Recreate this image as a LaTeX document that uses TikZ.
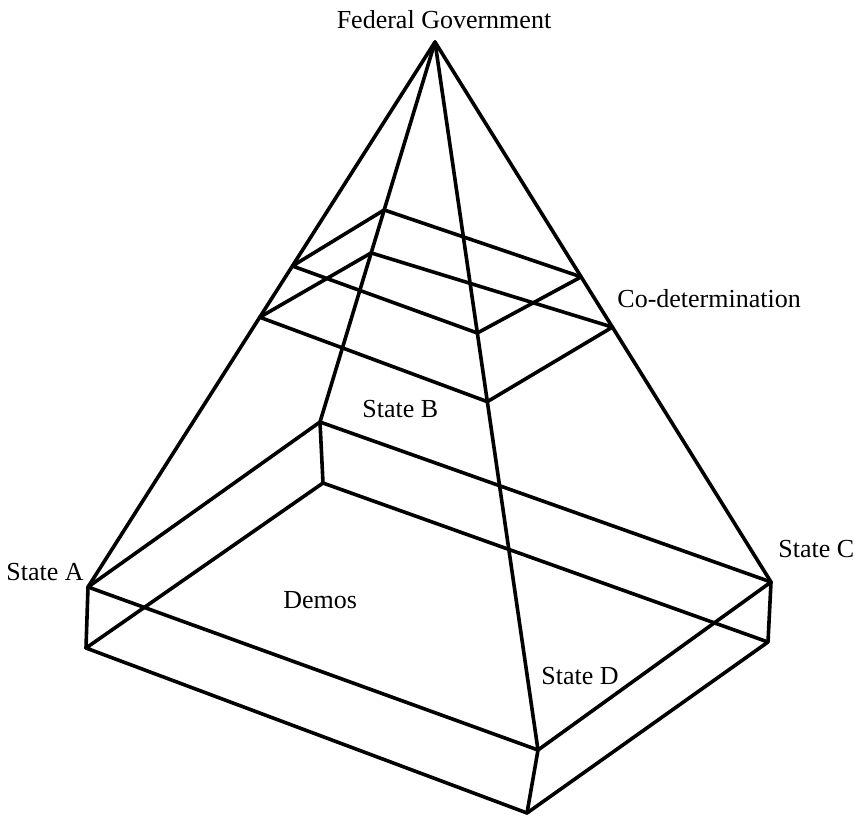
\documentclass[tikz,border=0pt]{standalone}
\usepackage{fontspec}
\setmainfont{Liberation Serif}
\usetikzlibrary{calc}
\tikzset{
  wire/.style={line width=1.8pt, line join=round, line cap=round},
  lbl/.style={inner sep=0pt, font=\fontsize{13}{15}\selectfont}
}

\begin{document}
\begin{tikzpicture}[x=0.5pt, y=-0.5pt]
    \useasboundingbox (0,0) rectangle (861,816);
    \coordinate (apex) at (435,42);
    \coordinate (sA) at (88,587);
    \coordinate (sB) at (320,422);
    \coordinate (sC) at (771,582);
    \coordinate (sD) at (538,750);
    \coordinate (bA) at (86,648);
    \coordinate (bB) at (323,483);
    \coordinate (bC) at (768,642);
    \coordinate (bD) at (527,813);
    \coordinate (uA) at ($(apex)!0.411!(sA)$);
    \coordinate (uB) at ($(apex)!0.442!(sB)$);
    \coordinate (uC) at ($(apex)!0.435!(sC)$);
    \coordinate (uD) at ($(apex)!0.411!(sD)$);
    \coordinate (lA) at ($(apex)!0.505!(sA)$);
    \coordinate (lB) at ($(apex)!0.555!(sB)$);
    \coordinate (lC) at ($(apex)!0.528!(sC)$);
    \coordinate (lD) at ($(apex)!0.508!(sD)$);
    \draw[wire] (apex) -- (sA);
    \draw[wire] (apex) -- (sB);
    \draw[wire] (apex) -- (sC);
    \draw[wire] (apex) -- (sD);
    \draw[wire] (sA) -- (sB) -- (sC) -- (sD) -- cycle;
    \draw[wire] (bA) -- (bB) -- (bC) -- (bD) -- cycle;
    \draw[wire] (sA) -- (bA);
    \draw[wire] (sB) -- (bB);
    \draw[wire] (sC) -- (bC);
    \draw[wire] (sD) -- (bD);
    \draw[wire] (uA) -- (uB) -- (uC) -- (uD) -- cycle;
    \draw[wire] (lA) -- (lB) -- (lC) -- (lD) -- cycle;
    \node[lbl, anchor=base] (fed) at (444,28) {Federal Government};
    \node[lbl, anchor=base west] (codet) at (617,307) {Co-determination};
    \node[lbl, anchor=base west] (stB) at (362,417) {State B};
    \node[lbl, anchor=base east] (stA) at (84,580) {State A};
    \node[lbl, anchor=base west] (stC) at (778,557) {State C};
    \node[lbl, anchor=base west] (demos) at (283,608) {Demos};
    \node[lbl, anchor=base west] (stD) at (541,684) {State D};
  \end{tikzpicture}
\end{document}
